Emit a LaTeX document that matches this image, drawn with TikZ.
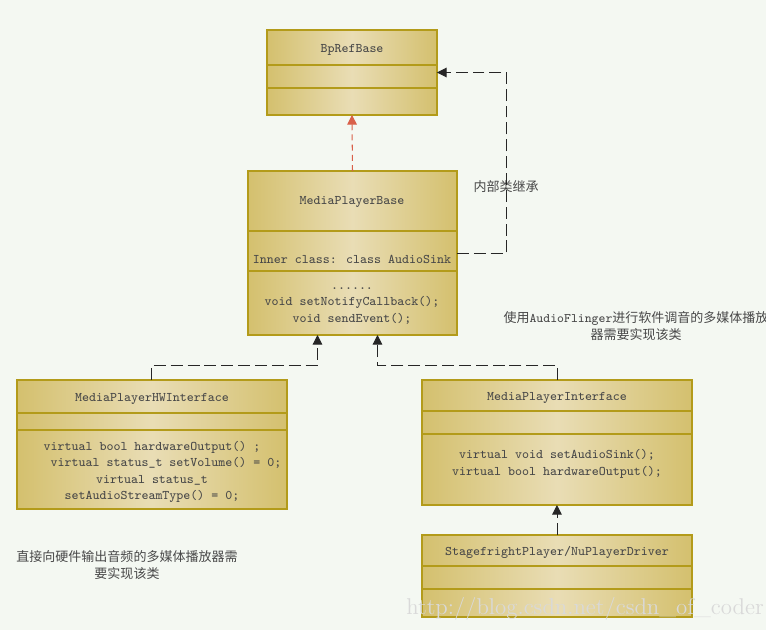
\documentclass[tikz,border=0pt]{standalone}
\usepackage{fontspec}
\newfontfamily\cjk{Noto Sans CJK SC}
\usepackage{xcolor}
\usepackage{tikz}
\usetikzlibrary{arrows.meta}
\usetikzlibrary{calc}
\definecolor{bgcol}{HTML}{F4F8F2}
\definecolor{goldedge}{HTML}{D4C06E}
\definecolor{goldmid}{HTML}{E9DDB5}
\definecolor{goldline}{HTML}{B39B1A}
\definecolor{txtcol}{HTML}{484848}
\definecolor{redarr}{HTML}{D9604A}
\tikzset{ cls_box/.style = {rectangle, draw=goldline, line width=0.8pt, left color=goldedge, right color=goldedge, middle color=goldmid, anchor=north west, inner sep=0pt, outer sep=0pt} }
\tikzset{ cls_line/.style = {draw=goldline, line width=0.8pt} }
\tikzset{ cls_text/.style = {font=\ttfamily\fontsize{7.5}{9.4}\selectfont, text=txtcol, align=center, inner sep=0pt} }
\tikzset{ note_text/.style = {font=\cjk\fontsize{7.4}{9.6}\selectfont, text=txtcol, align=center, inner sep=0pt} }
\tikzset{ dep/.style = {draw=black!85, line width=0.55pt, dash pattern=on 6.8pt off 2.8pt, -{Triangle[length=5.5pt,width=5.5pt]}} }
\tikzset{ red_dep/.style = {draw=redarr, line width=0.6pt, dash pattern=on 3.4pt off 2.4pt, -{Triangle[length=5.5pt,width=5.5pt]}} }

\begin{document}
\begin{tikzpicture}[x=0.02cm, y=-0.02cm]
                        \fill[bgcol] (0,0) rectangle (766,630);
                        \useasboundingbox (0,0) rectangle (766,630);
                        % class boxes
                        \node[cls_box, minimum width=3.4cm, minimum height=1.7cm] (bp) at (267,30) {};
                        \node[cls_box, minimum width=4.18cm, minimum height=3.28cm] (base) at (248,171) {};
                        \node[cls_box, minimum width=5.4cm, minimum height=2.58cm] (hw) at (17,380) {};
                        \node[cls_box, minimum width=5.4cm, minimum height=2.5cm] (iface) at (422,380) {};
                        \node[cls_box, minimum width=5.4cm, minimum height=1.64cm] (sf) at (422,535) {};
                        \draw[cls_line] ($(bp.north west)+(0,35)$) -- ($(bp.north east)+(0,35)$);
                        \draw[cls_line] ($(bp.north west)+(0,58)$) -- ($(bp.north east)+(0,58)$);
                        \draw[cls_line] ($(base.north west)+(0,60)$) -- ($(base.north east)+(0,60)$);
                        \draw[cls_line] ($(base.north west)+(0,100)$) -- ($(base.north east)+(0,100)$);
                        \draw[cls_line] ($(hw.north west)+(0,33)$) -- ($(hw.north east)+(0,33)$);
                        \draw[cls_line] ($(hw.north west)+(0,50)$) -- ($(hw.north east)+(0,50)$);
                        \draw[cls_line] ($(iface.north west)+(0,31)$) -- ($(iface.north east)+(0,31)$);
                        \draw[cls_line] ($(iface.north west)+(0,54)$) -- ($(iface.north east)+(0,54)$);
                        \draw[cls_line] ($(sf.north west)+(0,31)$) -- ($(sf.north east)+(0,31)$);
                        \draw[cls_line] ($(sf.north west)+(0,54)$) -- ($(sf.north east)+(0,54)$);
                        % class texts
                        \node[cls_text] (bp_name) at (352,50) {BpRefBase};
                        \node[cls_text] (base_name) at (352,202) {MediaPlayerBase};
                        \node[cls_text] (base_inner) at (352,259) {Inner class: class AudioSink};
                        \node[cls_text] (base_ops) at (352,306) {......\\void setNotifyCallback();\\void sendEvent();};
                        \node[cls_text] (hw_name) at (152,399) {MediaPlayerHWInterface};
                        \node[cls_text] (hw_ops) at (152,472) {virtual bool hardwareOutput() ;\\\phantom{xxxx}virtual status\_t setVolume() = 0;\\virtual status\_t\\setAudioStreamType() = 0;};
                        \node[cls_text] (iface_name) at (557,398) {MediaPlayerInterface};
                        \node[cls_text] (iface_ops) at (557,464) {virtual void setAudioSink();\\virtual bool hardwareOutput();};
                        \node[cls_text] (sf_name) at (557,552) {StagefrightPlayer/NuPlayerDriver};
                        % notes
                        \node[note_text] (inner_note) at (506,187) {内部类继承};
                        \node[note_text] (hw_note) at (127,565) {直接向硬件输出音频的多媒体播放器需\\要实现该类};
                        \node[note_text] (iface_note) at (636,326) {使用{\ttfamily AudioFlinger}进行软件调音的多媒体播放\\器需要实现该类};
                        \node[font=\rmfamily\fontsize{13}{13}\selectfont, text=gray!30] (mark) at (585,609) {http://blog.csdn.net/csdn\_of\_coder};
                        % connectors
                        \draw[red_dep] (base.north) to (bp.south);
                        \draw[dep] (base.east) -- ++(50,0) |- (bp.east);
                        \draw[dep] (hw.north) -- ++(0,-15) -| ($(base.south)+(-35,0)$);
                        \draw[dep] (iface.north) -- ++(0,-15) -| ($(base.south)+(25,0)$);
                        \draw[dep] (sf.north) to (iface.south);
                \end{tikzpicture}
\end{document}
